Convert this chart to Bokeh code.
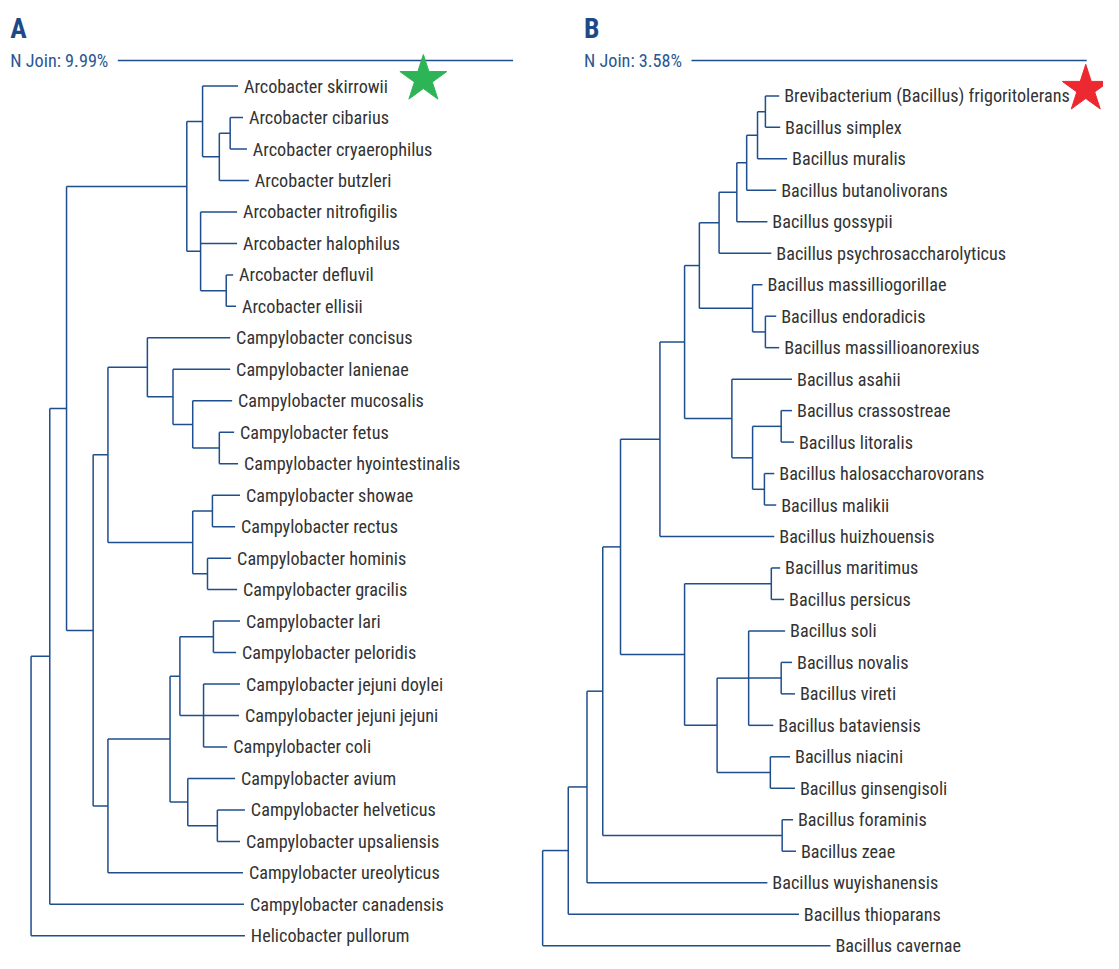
from bokeh.plotting import figure
from bokeh.models import Range1d, ColumnDataSource
from bokeh.core.properties import value
from bokeh.embed import file_html
from bokeh.resources import INLINE

# ---------------- data ----------------
panel_titles = ["A", "B"]
n_join = [9.99, 3.58]

# Panel A: leaves (top to bottom) and tip depth (distance from root)
leaves_a = [
    "Arcobacter skirrowii", "Arcobacter cibarius", "Arcobacter cryaerophilus",
    "Arcobacter butzleri", "Arcobacter nitrofigilis", "Arcobacter halophilus",
    "Arcobacter defluvil", "Arcobacter ellisii", "Campylobacter concisus",
    "Campylobacter lanienae", "Campylobacter mucosalis", "Campylobacter fetus",
    "Campylobacter hyointestinalis", "Campylobacter showae", "Campylobacter rectus",
    "Campylobacter hominis", "Campylobacter gracilis", "Campylobacter lari",
    "Campylobacter peloridis", "Campylobacter jejuni doylei",
    "Campylobacter jejuni jejuni", "Campylobacter coli", "Campylobacter avium",
    "Campylobacter helveticus", "Campylobacter upsaliensis",
    "Campylobacter ureolyticus", "Campylobacter canadensis", "Helicobacter pullorum",
]
tips_a = [210, 215, 219, 221, 209, 209, 205, 208, 202, 202, 204, 206, 210, 212,
          207, 203, 209, 212, 208, 212, 211, 199, 207, 217, 212, 215, 216, 217]
# internal nodes: (id, children, depth)
nodes_a = [
    ("a1", ["Arcobacter cibarius", "Arcobacter cryaerophilus"], 202),
    ("a2", ["a1", "Arcobacter butzleri"], 191),
    ("a3", ["Arcobacter skirrowii", "a2"], 174),
    ("a4", ["Arcobacter defluvil", "Arcobacter ellisii"], 198),
    ("a5", ["Arcobacter nitrofigilis", "Arcobacter halophilus", "a4"], 172),
    ("a6", ["a3", "a5"], 158),
    ("a7", ["Campylobacter fetus", "Campylobacter hyointestinalis"], 191),
    ("a8", ["Campylobacter mucosalis", "a7"], 164),
    ("a9", ["Campylobacter lanienae", "a8"], 144),
    ("a10", ["Campylobacter concisus", "a9"], 118),
    ("a11", ["Campylobacter showae", "Campylobacter rectus"], 184),
    ("a12", ["Campylobacter hominis", "Campylobacter gracilis"], 179),
    ("a13", ["a11", "a12"], 164),
    ("a14", ["a10", "a13"], 78),
    ("a15", ["Campylobacter lari", "Campylobacter peloridis"], 185),
    ("a16", ["Campylobacter jejuni doylei", "Campylobacter jejuni jejuni",
             "Campylobacter coli"], 175),
    ("a17", ["a15", "a16"], 151),
    ("a18", ["Campylobacter helveticus", "Campylobacter upsaliensis"], 189),
    ("a19", ["Campylobacter avium", "a18"], 159),
    ("a20", ["a17", "a19"], 141),
    ("a21", ["a20", "Campylobacter ureolyticus"], 78),
    ("a22", ["a14", "a21"], 63),
    ("a23", ["a6", "a22"], 36),
    ("a24", ["a23", "Campylobacter canadensis"], 19),
    ("a25", ["a24", "Helicobacter pullorum"], 0),
]

# Panel B
leaves_b = [
    "Brevibacterium (Bacillus) frigoritolerans", "Bacillus simplex",
    "Bacillus muralis", "Bacillus butanolivorans", "Bacillus gossypii",
    "Bacillus psychrosaccharolyticus", "Bacillus massilliogorillae",
    "Bacillus endoradicis", "Bacillus massillioanorexius", "Bacillus asahii",
    "Bacillus crassostreae", "Bacillus litoralis", "Bacillus halosaccharovorans",
    "Bacillus malikii", "Bacillus huizhouensis", "Bacillus maritimus",
    "Bacillus persicus", "Bacillus soli", "Bacillus novalis", "Bacillus vireti",
    "Bacillus bataviensis", "Bacillus niacini", "Bacillus ginsengisoli",
    "Bacillus foraminis", "Bacillus zeae", "Bacillus wuyishanensis",
    "Bacillus thioparans", "Bacillus cavernae",
]
tips_b = [240, 241, 248, 237, 228, 232, 223, 237, 240, 253, 253, 255, 235, 237,
          235, 241, 245, 246, 253, 256, 234, 251, 256, 254, 257, 228, 260, 292]
nodes_b = [
    ("b1", ["Brevibacterium (Bacillus) frigoritolerans", "Bacillus simplex"], 226),
    ("b2", ["b1", "Bacillus muralis"], 218),
    ("b3", ["b2", "Bacillus butanolivorans"], 207),
    ("b4", ["b3", "Bacillus gossypii"], 197),
    ("b5", ["b4", "Bacillus psychrosaccharolyticus"], 179),
    ("b6", ["Bacillus endoradicis", "Bacillus massillioanorexius"], 226),
    ("b7", ["Bacillus massilliogorillae", "b6"], 213),
    ("b8", ["b5", "b7"], 159),
    ("b9", ["Bacillus crassostreae", "Bacillus litoralis"], 242),
    ("b10", ["Bacillus halosaccharovorans", "Bacillus malikii"], 225),
    ("b11", ["b9", "b10"], 213),
    ("b12", ["Bacillus asahii", "b11"], 192),
    ("b13", ["b8", "b12"], 144),
    ("b14", ["b13", "Bacillus huizhouensis"], 119),
    ("b15", ["Bacillus maritimus", "Bacillus persicus"], 232),
    ("b16", ["Bacillus novalis", "Bacillus vireti"], 242),
    ("b17", ["Bacillus soli", "b16", "Bacillus bataviensis"], 209),
    ("b18", ["Bacillus niacini", "Bacillus ginsengisoli"], 231),
    ("b19", ["b17", "b18"], 177),
    ("b20", ["b15", "b19"], 144),
    ("b21", ["b14", "b20"], 79),
    ("b22", ["Bacillus foraminis", "Bacillus zeae"], 243),
    ("b23", ["b21", "b22"], 61),
    ("b24", ["b23", "Bacillus wuyishanensis"], 45),
    ("b25", ["b24", "Bacillus thioparans"], 26),
    ("b26", ["b25", "Bacillus cavernae"], 0),
]
star_colors = ["#2db456", "#ec2830"]

# ---------------- style / layout ----------------
W, H = 1103, 953          # figure size on the page
RW, RH = 1119, 969        # drawing space
S = W / RW                # px per drawing unit
LINE = "#1f4e8d"
TEXT = "#333333"
BLUE_T = "#1c4a86"
FONT = "'Liberation Sans Narrow', 'Arial Narrow', 'Roboto Condensed', sans-serif"


def fs(px):
    return f"{px * S:.1f}px"


p = figure(width=W, height=H, output_backend="svg", toolbar_location=None,
           x_range=Range1d(0, RW), y_range=Range1d(RH, 0),
           min_border=0, outline_line_color=None)
p.axis.visible = False
p.grid.visible = False
p.background_fill_color = "white"
p.border_fill_color = "white"


def draw_tree(leaves, tips, nodes, root_x, y0, dy, label_dx):
    pos = {}
    for i, (name, t) in enumerate(zip(leaves, tips)):
        pos[name] = (root_x + t, y0 + i * dy)
    x0s, y0s, x1s, y1s = [], [], [], []
    for nid, children, depth in nodes:
        nx = root_x + depth
        cys = [pos[c][1] for c in children]
        for c in children:
            cx, cy = pos[c]
            x0s.append(nx); y0s.append(cy); x1s.append(cx); y1s.append(cy)
        x0s.append(nx); y0s.append(min(cys)); x1s.append(nx); y1s.append(max(cys))
        pos[nid] = (nx, (min(cys) + max(cys)) / 2)
    src = ColumnDataSource(dict(x0=x0s, y0=y0s, x1=x1s, y1=y1s))
    p.segment("x0", "y0", "x1", "y1", source=src, line_color=LINE, line_width=1.5)
    lab = ColumnDataSource(dict(x=[pos[n][0] + label_dx for n in leaves],
                                y=[pos[n][1] for n in leaves], t=leaves))
    p.text("x", "y", text="t", source=lab, text_font=value(FONT),
           text_font_size=fs(18.5), text_color=TEXT, text_baseline="middle",
           text_align="left")
    return pos


pos_a = draw_tree(leaves_a, tips_a, nodes_a, 31, 87, 32, 6)
pos_b = draw_tree(leaves_b, tips_b, nodes_b, 550, 97, 32, 5)

# panel headers
hx = [10, 592]
p.text(x=hx, y=[28, 28], text=panel_titles, text_font=value(FONT),
       text_font_style="bold", text_font_size=fs(28), text_color=BLUE_T,
       text_baseline="middle")
p.text(x=hx, y=[61, 61], text=[f"N Join: {v:.2f}%" for v in n_join],
       text_font=value(FONT), text_font_size=fs(18.5), text_color="#2a5793",
       text_baseline="middle")
p.segment(x0=[119, 701], y0=[61, 61], x1=[520, 1102], y1=[61, 61],
          line_color=LINE, line_width=1.3)

# stars
p.scatter(x=[429, 1101], y=[80, 90], marker="star", size=50 * S,
          fill_color=star_colors, line_color=star_colors)

open("out.html", "w").write(file_html(p, INLINE))
